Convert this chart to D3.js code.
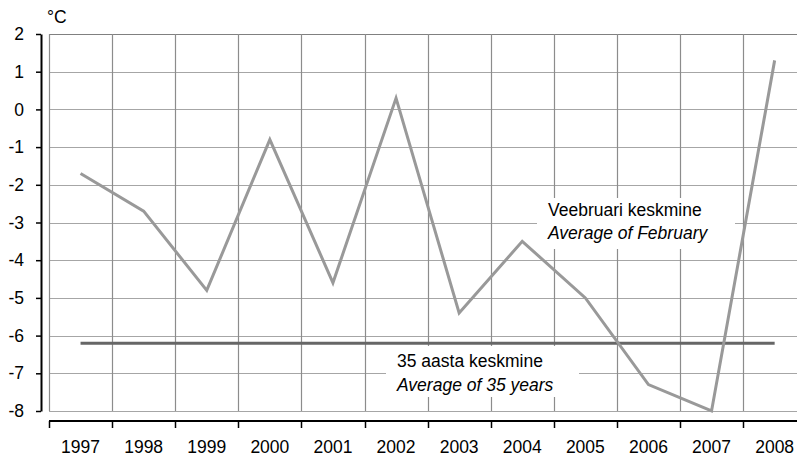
<!DOCTYPE html>
<html>
<head>
<meta charset="utf-8">
<script src="https://cdn.jsdelivr.net/npm/d3@7"></script>
<style>
  body { margin: 0; background: #fff; }
  text { font-family: "Liberation Sans", Arial, sans-serif; font-size: 17.5px; fill: #000; }
</style>
</head>
<body>
<div id="chart"></div>
<script>
var years = ["1997", "1998", "1999", "2000", "2001", "2002", "2003", "2004", "2005", "2006", "2007", "2008"];
var febValues = [-1.7, -2.7, -4.8, -0.8, -4.6, 0.3, -5.4, -3.5, -5.0, -7.3, -8.0, 1.3];
var avg35 = -6.2;
var yTicks = [2, 1, 0, -1, -2, -3, -4, -5, -6, -7, -8];

var width = 797, height = 457;
var plotLeft = 49, plotTop = 34, plotBottom = 411;

var svg = d3.select("#chart").append("svg")
    .attr("width", width)
    .attr("height", height);

var x = d3.scaleBand().domain(years).range([plotLeft, plotLeft + 12 * 63.1]).padding(0);
var y = d3.scaleLinear().domain([-8, 2]).range([plotBottom, plotTop]);

// gridlines
svg.append("g").selectAll("line")
    .data(yTicks)
    .enter().append("line")
    .attr("x1", plotLeft).attr("x2", width)
    .attr("y1", function(d) { return Math.round(y(d)) + 0.5; })
    .attr("y2", function(d) { return Math.round(y(d)) + 0.5; })
    .attr("stroke", function(d) { return d == 2 ? "#808080" : "#a6a6a6"; })
    .attr("stroke-width", 1.2);

var bounds = years.map(function(d) { return x(d); });
svg.append("g").selectAll("line")
    .data(bounds)
    .enter().append("line")
    .attr("x1", function(d) { return Math.round(d) + 0.5; })
    .attr("x2", function(d) { return Math.round(d) + 0.5; })
    .attr("y1", plotTop).attr("y2", plotBottom)
    .attr("stroke", "#8c8c8c")
    .attr("stroke-width", 1.2);

// white label boxes hide gridlines
svg.append("rect").attr("x", 537).attr("y", 198).attr("width", 198).attr("height", 51).attr("fill", "#fff");
svg.append("rect").attr("x", 386).attr("y", 346).attr("width", 193).attr("height", 51).attr("fill", "#fff");

// average line
svg.append("line")
    .attr("x1", x(years[0]) + x.bandwidth() / 2)
    .attr("x2", x(years[years.length - 1]) + x.bandwidth() / 2)
    .attr("y1", y(avg35)).attr("y2", y(avg35))
    .attr("stroke", "#666")
    .attr("stroke-width", 3);

// february series
var line = d3.line()
    .x(function(d, i) { return x(years[i]) + x.bandwidth() / 2; })
    .y(function(d) { return y(d); });

svg.append("path")
    .datum(febValues)
    .attr("d", line)
    .attr("fill", "none")
    .attr("stroke", "#999")
    .attr("stroke-width", 3);

// y axis (plain hyphen for negatives, like the original)
var yAxis = svg.append("g")
    .attr("transform", "translate(41,0)")
    .call(d3.axisLeft(y).tickValues(yTicks).tickSize(5).tickSizeOuter(0).tickPadding(12)
        .tickFormat(function(d) { return String(d); }));
yAxis.select(".domain").attr("stroke", "#000").attr("stroke-width", 2);
yAxis.selectAll(".tick line").attr("stroke", "#000").attr("stroke-width", 1.5);
yAxis.selectAll("text").attr("font-size", null).attr("font-family", null);

// x axis
var xAxis = svg.append("g")
    .attr("transform", "translate(0,421)");
xAxis.append("line")
    .attr("x1", plotLeft).attr("x2", width)
    .attr("stroke", "#000").attr("stroke-width", 2);
xAxis.selectAll("line.t")
    .data(bounds)
    .enter().append("line")
    .attr("class", "t")
    .attr("x1", function(d) { return Math.round(d) + 0.5; })
    .attr("x2", function(d) { return Math.round(d) + 0.5; })
    .attr("y1", 0).attr("y2", 7)
    .attr("stroke", "#000").attr("stroke-width", 1.5);
xAxis.selectAll("text")
    .data(years)
    .enter().append("text")
    .attr("x", function(d) { return x(d) + x.bandwidth() / 2; })
    .attr("y", 32)
    .attr("text-anchor", "middle")
    .text(function(d) { return d; });

// unit
svg.append("text").attr("x", 47).attr("y", 23).text("°C");

// labels
svg.append("text").attr("x", 548).attr("y", 216).text("Veebruari keskmine");
svg.append("text").attr("x", 548).attr("y", 239).style("font-style", "italic").text("Average of February");
svg.append("text").attr("x", 397).attr("y", 367).text("35 aasta keskmine");
svg.append("text").attr("x", 397).attr("y", 391).style("font-style", "italic").text("Average of 35 years");
</script>
</body>
</html>
